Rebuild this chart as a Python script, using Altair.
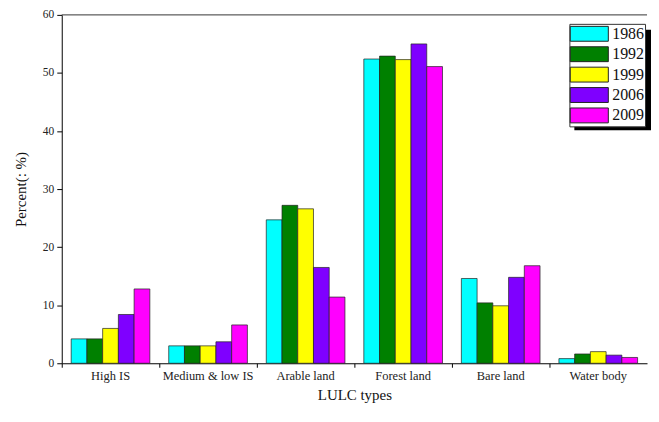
import altair as alt
import pandas as pd

categories = ["High IS", "Medium & low IS", "Arable land", "Forest land", "Bare land", "Water body"]
years = ["1986", "1992", "1999", "2006", "2009"]
colors = ["#00FFFF", "#008000", "#FFFF00", "#7F00FF", "#FF00FF"]

v1986 = [4.2, 3.0, 24.7, 52.4, 14.6, 0.8]
v1992 = [4.2, 3.0, 27.2, 52.9, 10.4, 1.6]
v1999 = [6.0, 3.0, 26.6, 52.3, 9.9, 2.0]
v2006 = [8.4, 3.7, 16.5, 55.0, 14.8, 1.4]
v2009 = [12.8, 6.6, 11.4, 51.1, 16.8, 1.0]

series = [v1986, v1992, v1999, v2006, v2009]
rows = []
for y, vals in zip(years, series):
    for c, v in zip(categories, vals):
        rows.append({"type": c, "year": y, "value": v})
df = pd.DataFrame(rows)

FONT = "Liberation Serif"
W = 588
H = 350

bars = alt.Chart(df).mark_bar(stroke="#222222", strokeWidth=0.7).encode(
    x=alt.X("type:N", sort=categories, title="LULC types",
            scale=alt.Scale(paddingInner=0, paddingOuter=0),
            axis=alt.Axis(bandPosition=0, labelAngle=0,
                          tickSize=4, tickColor="black", domainColor="black",
                          labelFont=FONT, labelFontSize=12.5, labelColor="#222222",
                          labelPadding=2, titleFont=FONT, titleFontSize=15,
                          titleFontWeight="normal", titleColor="#111111", titlePadding=6)),
    xOffset=alt.XOffset("year:N", sort=years,
                        scale=alt.Scale(paddingInner=0, paddingOuter=0.6)),
    y=alt.Y("value:Q", title="Percent(: %)",
            scale=alt.Scale(domain=[0, 60], nice=False),
            axis=alt.Axis(values=[0, 10, 20, 30, 40, 50, 60], grid=False,
                          tickSize=5, tickColor="black", domainColor="black",
                          labelFont=FONT, labelFontSize=11.5, labelColor="#222222",
                          labelPadding=3, titleFont=FONT, titleFontSize=15,
                          titleFontWeight="normal", titleColor="#111111", titlePadding=14)),
    color=alt.Color("year:N", sort=years,
                    scale=alt.Scale(domain=years, range=colors),
                    legend=alt.Legend(title=None, orient="none",
                                      legendX=510, legendY=9,
                                      symbolType="M-2.25,-0.88L2.25,-0.88L2.25,0.88L-2.25,0.88Z",
                                      symbolSize=289, symbolStrokeColor="#222222",
                                      symbolStrokeWidth=1, symbolOpacity=1,
                                      symbolOffset=10,
                                      labelFont=FONT, labelFontSize=16, labelColor="#111111",
                                      labelOffset=14, rowPadding=0.5, padding=1,
                                      strokeColor="#333333", fillColor="white")),
)

shadow = alt.Chart(pd.DataFrame({"k": [0]})).mark_rect(color="black", opacity=1).encode(
    x=alt.value(515), x2=alt.value(592),
    y=alt.value(15), y2=alt.value(116)
)

top = alt.Chart(pd.DataFrame({"k": [0]})).mark_rule(color="#333333", strokeWidth=1).encode(
    x=alt.value(0), x2=alt.value(W), y=alt.value(0)
)

chart = alt.layer(bars, shadow, top).properties(
    width=W, height=H,
    padding={"left": 5, "top": 0, "right": 0, "bottom": 0},
).configure_view(stroke=None)

chart.save("out.html", embed_options={"renderer": "svg", "actions": False})
